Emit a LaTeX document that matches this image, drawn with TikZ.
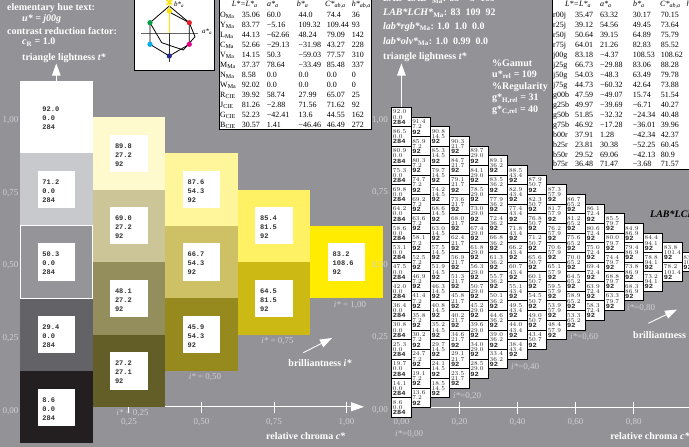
\documentclass[tikz,border=0pt]{standalone}
\usepackage{fontspec}
\setmainfont{Liberation Serif}
\newfontfamily\monob{Liberation Mono}
\newfontfamily\monos{Liberation Mono}[FakeStretch=1.12]
\usetikzlibrary{arrows.meta}
\definecolor{bg}{RGB}{146,146,151}
\definecolor{lbl}{RGB}{208,208,212}
\definecolor{numtxt}{RGB}{50,50,50}
\definecolor{g0}{RGB}{255,255,255}
\definecolor{g1}{RGB}{200,201,205}
\definecolor{g2}{RGB}{148,148,153}
\definecolor{g3}{RGB}{99,99,103}
\definecolor{g4}{RGB}{35,31,33}
\definecolor{y10}{RGB}{255,250,205}
\definecolor{y11}{RGB}{204,197,152}
\definecolor{y12}{RGB}{148,141,92}
\definecolor{y13}{RGB}{99,93,40}
\definecolor{y20}{RGB}{255,245,155}
\definecolor{y21}{RGB}{206,192,100}
\definecolor{y22}{RGB}{150,137,30}
\definecolor{y30}{RGB}{255,240,100}
\definecolor{y31}{RGB}{205,185,20}
\definecolor{y40}{RGB}{255,236,0}
\definecolor{dotR}{RGB}{230,30,40}
\definecolor{dotY}{RGB}{255,225,0}
\definecolor{dotG}{RGB}{0,160,70}
\definecolor{dotC}{RGB}{0,170,230}
\definecolor{dotB}{RGB}{40,40,140}
\definecolor{dotM}{RGB}{225,0,135}
\tikzset{
  wtxt/.style={text=white, font=\bfseries\fontsize{10}{12}\selectfont, inner sep=0, anchor=base west},
  tabtxt/.style={text=black, font=\fontsize{8}{10}\selectfont, inner sep=0, anchor=base west},
  lbltxt/.style={text=lbl, font=\fontsize{9}{11}\selectfont, inner sep=0},
  cellbox/.style={minimum size=72.55pt, inner sep=0, outer sep=0},
  inbox/.style={fill=white, minimum size=37.3pt, inner sep=0, outer sep=0},
  bigtxt/.style={text=numtxt, font=\monob\bfseries\fontsize{7}{9}\selectfont, align=left, inner sep=0, anchor=north west},
  sbox/.style={fill=white, draw=black, line width=0.9pt, minimum size=19.36pt, inner sep=0, outer sep=0},
  stxt/.style={text=black!85, font=\monos\bfseries\fontsize{6.3}{5.2}\selectfont, align=left, inner sep=0, anchor=north west},
  warrow/.style={draw=white, line width=0.9pt, -{Triangle[length=12pt,width=8.5pt,fill=white]}},
  axisline/.style={draw=white, line width=0.9pt},
  tickline/.style={draw=white, line width=0.8pt},
  hueline/.style={draw=black, line width=0.8pt},
}
\begin{document}
\begin{tikzpicture}[x=1pt,y=-1pt]
\useasboundingbox (0,0) rectangle (689,447);
\clip (0,0) rectangle (689,447);
\fill[bg] (0,0) rectangle (689,447);

% ---------- top-left text ----------
\node[wtxt] (t1) at (7,10) {elementary hue text:};
\node[wtxt] (t2) at (22,21) {\textit{u* = j00g}};
\node[wtxt] (t3) at (7,34.3) {contrast reduction factor:};
\node[wtxt] (t4) at (22,45) {\textit{c}\textsubscript{R} = 1.0};
\node[wtxt] (t5) at (22,60) {triangle lightness \textit{t*}};

% ---------- hue diagram ----------
\node[draw=black, fill=white, line width=0.8pt, anchor=south west, minimum width=80pt, minimum height=76pt, inner sep=0] (huebox) at (134.3,71) {};
\draw[black!60, line width=0.6pt] (140.7,33.3) -- (198.3,33.3);
\draw[black!80, line width=0.6pt] (169.3,33.3) -- (169.3,61.7);
\draw[hueline] (169.3,6) -- (189.3,22.7) -- (189.3,44.3) -- (169.3,56) -- (150,44.3) -- (150,22.7) -- cycle;
\draw[hueline] (169.3,12) -- (189.3,22.7) -- (195,36.7) -- (183.3,50) -- (161.7,42.7) -- (150,22.7);
\draw[dotY, line width=1.6pt] (169.3,33.3) -- (169.3,-2);
\draw[dotY, line width=1.3pt] (166.5,0) -- (172.1,4.6) (166.5,4.6) -- (172.1,0);
\fill[dotY] (169.3,11) circle (2.6);
\fill[dotR] (189.3,22.7) circle (2.6);
\fill[dotM] (189.3,44.3) circle (2.6);
\fill[dotB] (169.3,56) circle (2.6);
\fill[dotC] (150,44.3) circle (2.6);
\fill[dotG] (150,22.7) circle (2.6);
\node[text=black, font=\itshape\fontsize{7}{8}\selectfont, inner sep=0] (hal) at (207,32) {a*\textsubscript{a}};
\node[text=black, font=\itshape\fontsize{7}{8}\selectfont, inner sep=0] (hbl) at (179,4.5) {b*\textsubscript{a}};

% ---------- table 1 ----------
\node[draw=black, fill=white, line width=0.8pt, anchor=south west, minimum width=152pt, minimum height=135pt, inner sep=0] (tab1) at (219,130) {};
\node[tabtxt] (h1a) at (231.7,6) {\textit{L*=L*}\textsubscript{\textit{a}}};
\node[tabtxt] (h1b) at (267,6) {\textit{a*}\textsubscript{\textit{a}}};
\node[tabtxt] (h1c) at (296.7,6) {\textit{b*}\textsubscript{\textit{a}}};
\node[tabtxt] (h1d) at (325,6) {\textit{C*}\textsubscript{\textit{ab,a}}};
\node[tabtxt] (h1e) at (351.7,6) {\textit{h*}\textsubscript{\textit{ab,a}}};
\foreach \lab/\va/\vb/\vc/\vd/\ve [count=\i from 0] in {
  {O\textsubscript{Ma}}/35.06/60.0/44.0/74.4/36,
  {Y\textsubscript{Ma}}/83.77/−5.16/109.32/109.44/93,
  {L\textsubscript{Ma}}/44.13/−62.66/48.24/79.09/142,
  {C\textsubscript{Ma}}/52.66/−29.13/−31.98/43.27/228,
  {V\textsubscript{Ma}}/14.15/50.3/−59.03/77.57/310,
  {M\textsubscript{Ma}}/37.37/78.64/−33.49/85.48/337,
  {N\textsubscript{Ma}}/8.58/0.0/0.0/0.0/0,
  {W\textsubscript{Ma}}/92.02/0.0/0.0/0.0/0,
  {R\textsubscript{CIE}}/39.92/58.74/27.99/65.07/25,
  {J\textsubscript{CIE}}/81.26/−2.88/71.56/71.62/92,
  {G\textsubscript{CIE}}/52.23/−42.41/13.6/44.55/162,
  {B\textsubscript{CIE}}/30.57/1.41/−46.46/46.49/272}{
  \node[tabtxt] (ta\i) at (220,{17.7+10*\i}) {\lab};
  \node[tabtxt] (tb\i) at (241.7,{17.7+10*\i}) {\va};
  \node[tabtxt] (tc\i) at (266.7,{17.7+10*\i}) {\vb};
  \node[tabtxt] (td\i) at (298.3,{17.7+10*\i}) {\vc};
  \node[tabtxt] (te\i) at (326.7,{17.7+10*\i}) {\vd};
  \node[tabtxt] (tf\i) at (351.7,{17.7+10*\i}) {\ve};
}

% ---------- table 2 ----------
\node[draw=black, fill=white, line width=0.8pt, anchor=south west, minimum width=150pt, minimum height=175pt, inner sep=0] (tab2) at (552,170) {};
\node[tabtxt] (h2a) at (565,6) {\textit{L*=L*}\textsubscript{\textit{a}}};
\node[tabtxt] (h2b) at (600,6) {\textit{a*}\textsubscript{\textit{a}}};
\node[tabtxt] (h2c) at (633,6) {\textit{b*}\textsubscript{\textit{a}}};
\node[tabtxt] (h2d) at (660,6) {\textit{C*}\textsubscript{\textit{ab,a}}};
\node[tabtxt] (h2e) at (686.5,6) {\textit{h*}\textsubscript{\textit{ab,a}}};
\foreach \lab/\va/\vb/\vc/\vd [count=\i from 0] in {
  r00j/35.47/63.32/30.17/70.15,
  r25j/39.12/54.56/49.45/73.64,
  r50j/50.64/39.15/64.89/75.79,
  r75j/64.01/21.26/82.83/85.52,
  j00g/83.18/−4.37/108.53/108.62,
  j25g/66.73/−29.88/83.06/88.28,
  j50g/54.03/−48.3/63.49/79.78,
  j75g/44.73/−60.32/42.64/73.88,
  g00b/47.59/−49.07/15.74/51.54,
  g25b/49.97/−39.69/−6.71/40.27,
  g50b/51.85/−32.32/−24.34/40.48,
  g75b/46.92/−17.28/−36.01/39.96,
  b00r/37.91/1.28/−42.34/42.37,
  b25r/23.81/30.38/−52.25/60.45,
  b50r/29.52/69.06/−42.13/80.9,
  b75r/36.48/71.47/−3.68/71.57}{
  \node[tabtxt] (ua\i) at (553,{17.7+9.95*\i}) {\lab};
  \node[tabtxt] (ub\i) at (575,{17.7+9.95*\i}) {\va};
  \node[tabtxt] (uc\i) at (600,{17.7+9.95*\i}) {\vb};
  \node[tabtxt] (ud\i) at (632.7,{17.7+9.95*\i}) {\vc};
  \node[tabtxt] (ue\i) at (660.7,{17.7+9.95*\i}) {\vd};
}

% ---------- middle text ----------
\node[wtxt] (m0) at (383,1.7) {\textit{LAB*LAB*}\textsubscript{Ma}: 83\ \ −5\ \ 109};
\node[wtxt] (m1) at (383,16) {\textit{LAB*LCH*}\textsubscript{Ma}: 83\ \ 109\ \ 92};
\node[wtxt] (m2) at (383,29.3) {\textit{lab*rgb*}\textsubscript{Ma}: 1.0\ \ 1.0\ \ 0.0};
\node[wtxt] (m3) at (383,44.3) {\textit{lab*olv*}\textsubscript{Ma}: 1.0\ \ 0.99\ \ 0.0};
\node[wtxt] (m4) at (383,59.3) {triangle lightness \textit{t*}};
\node[wtxt] (g1) at (492,66) {\%Gamut};
\node[wtxt] (g2) at (492,77.3) {u*\textsubscript{rel} = 109};
\node[wtxt] (g3) at (492,89.3) {\%Regularity};
\node[wtxt] (g4) at (492,100.7) {g*\textsubscript{H,rel} = 31};
\node[wtxt] (g5) at (492,112) {g*\textsubscript{C,rel} = 40};

% ---------- left axes ----------
\coordinate (la0) at (56.3,406.8);
\coordinate (la1) at (364,406.8);
\draw[axisline, -{Triangle[length=13pt,width=9pt,fill=white]}] (la0) -- (la1);
\foreach \t in {1,2,3,4} \draw[tickline] ({56.3+72.55*\t},401.5) -- ({56.3+72.55*\t},413);

% ---------- left grid ----------
\foreach \j/\k/\col/\vL/\vC/\vh in {
  0/0/g0/92.0/0.0/284, 0/1/g1/71.2/0.0/284, 0/2/g2/50.3/0.0/284, 0/3/g3/29.4/0.0/284, 0/4/g4/8.6/0.0/284,
  1/0/y10/89.8/27.2/92, 1/1/y11/69.0/27.2/92, 1/2/y12/48.1/27.2/92, 1/3/y13/27.2/27.1/92,
  2/0/y20/87.6/54.3/92, 2/1/y21/66.7/54.3/92, 2/2/y22/45.9/54.3/92,
  3/0/y30/85.4/81.5/92, 3/1/y31/64.5/81.5/92,
  4/0/y40/83.2/108.6/92}{
  \node[cellbox, fill=\col] (c\j\k) at ({56.3+72.55*\j},{117+36.275*\j+72.55*\k}) {};
  \node[inbox] (i\j\k) at (c\j\k) {};
  \node[bigtxt] (b\j\k) at ([xshift=4.6pt,yshift=-8.6pt]i\j\k.north west) {\vL\\\vC\\\vh};
}
\draw[white, line width=0.9pt] (c02.north west) rectangle (c02.south east);
\coordinate (lt) at (56.3,63.5);
\draw[warrow] (c00.north) -- (lt);

% y labels left
\foreach \v/\k in {{1,00}/0, {0,75}/1, {0,50}/2, {0,25}/3, {0,00}/4}
  \node[lbltxt] (yl\k) at (10.5,{120.5+72.55*\k}) {\v};
% tick labels left
\node[lbltxt] (xl1) at (128.9,421.7) {0,25};
\node[lbltxt] (xl2) at (201.4,421.7) {0,50};
\node[lbltxt] (xl3) at (274,421.7) {0,75};
\node[lbltxt] (xl4) at (346.6,421.7) {1,00};
\node[lbltxt] (il1) at (132.5,412.7) {\textit{i*} = 0,25};
\node[lbltxt] (il2) at (205,376.7) {\textit{i*} = 0,50};
\node[lbltxt] (il3) at (277.5,341) {\textit{i*} = 0,75};
\node[lbltxt] (il4) at (350,305) {\textit{i*} = 1,00};
\node[wtxt, anchor=center] (rc1) at (305.7,436) {relative chroma \textit{c*}};
\node[wtxt, anchor=center] (br1) at (320,363) {brilliantness \textit{i*}};
\coordinate (ba0) at (303.3,352.7);
\coordinate (ba1) at (332,338);
\draw[warrow] (ba0) -- (ba1);

% ---------- right axes ----------
\coordinate (ra0) at (401.4,407.7);
\coordinate (ra1) at (695,407.7);
\draw[axisline] (ra0) -- (ra1);
\foreach \t in {1,2,3,4} \draw[tickline] ({401.4+58.08*\t},402) -- ({401.4+58.08*\t},413.5);

% ---------- right grid ----------
\foreach \j in {0,...,15}{
  \pgfmathtruncatemacro\kmax{15-\j}
  \foreach \k in {0,...,\kmax}{
    \pgfmathsetmacro\cx{401.4+19.36*\j}
    \pgfmathsetmacro\cy{117+9.68*\j+19.36*\k}
    \pgfmathsetmacro\Lv{92.02-0.589333*\j-5.562667*\k}
    \pgfmathsetmacro\Cv{7.241333*\j}
    \node[sbox] (r\j-\k) at (\cx,\cy) {};
    \node[stxt] (s\j-\k) at ([xshift=1pt,yshift=-2.6pt]r\j-\k.north west) {\pgfmathprintnumber[fixed,fixed zerofill,precision=1]{\Lv}\\\pgfmathprintnumber[fixed,fixed zerofill,precision=1]{\Cv}\\\ifnum\j=0 284\else 92\fi};
  }
}
\coordinate (rt) at (401.4,63.5);
\draw[warrow] (r0-0.north) -- (rt);

% y labels right
\foreach \v/\k in {{1,00}/0, {0,75}/1, {0,50}/2, {0,25}/3, {0,00}/4}
  \node[lbltxt] (yr\k) at (380,{120+72.55*\k}) {\v};
\node[lbltxt] (xr0) at (401.4,422) {0,00};
\node[lbltxt] (xr1) at (459.5,422) {0,20};
\node[lbltxt] (xr2) at (517.6,422) {0,40};
\node[lbltxt] (xr3) at (575.6,422) {0,60};
\node[lbltxt] (xr4) at (633.7,422) {0,80};
\node[lbltxt, anchor=west] (ir0) at (395,434) {\textit{i*}=0,00};
\node[lbltxt, anchor=west] (ir1) at (453,396) {\textit{i*}=0,20};
\node[lbltxt, anchor=west] (ir2) at (511,366.7) {\textit{i*}=0,40};
\node[lbltxt, anchor=west] (ir3) at (570,337) {\textit{i*}=0,60};
\node[lbltxt, anchor=west] (ir4) at (627,308) {\textit{i*}=0,80};
\node[wtxt, anchor=center] (rc2) at (650,436) {relative chroma \textit{c*}};
\node[wtxt, anchor=west] (br2) at (633,335) {brilliantness};
\coordinate (bb0) at (648.3,323.3);
\coordinate (bb1) at (677,309.5);
\draw[warrow] (bb0) -- (bb1);
\node[text=black, font=\bfseries\itshape\fontsize{10}{12}\selectfont, inner sep=0, anchor=west] (lch) at (650,214) {LAB*LCH*};
\end{tikzpicture}
\end{document}
